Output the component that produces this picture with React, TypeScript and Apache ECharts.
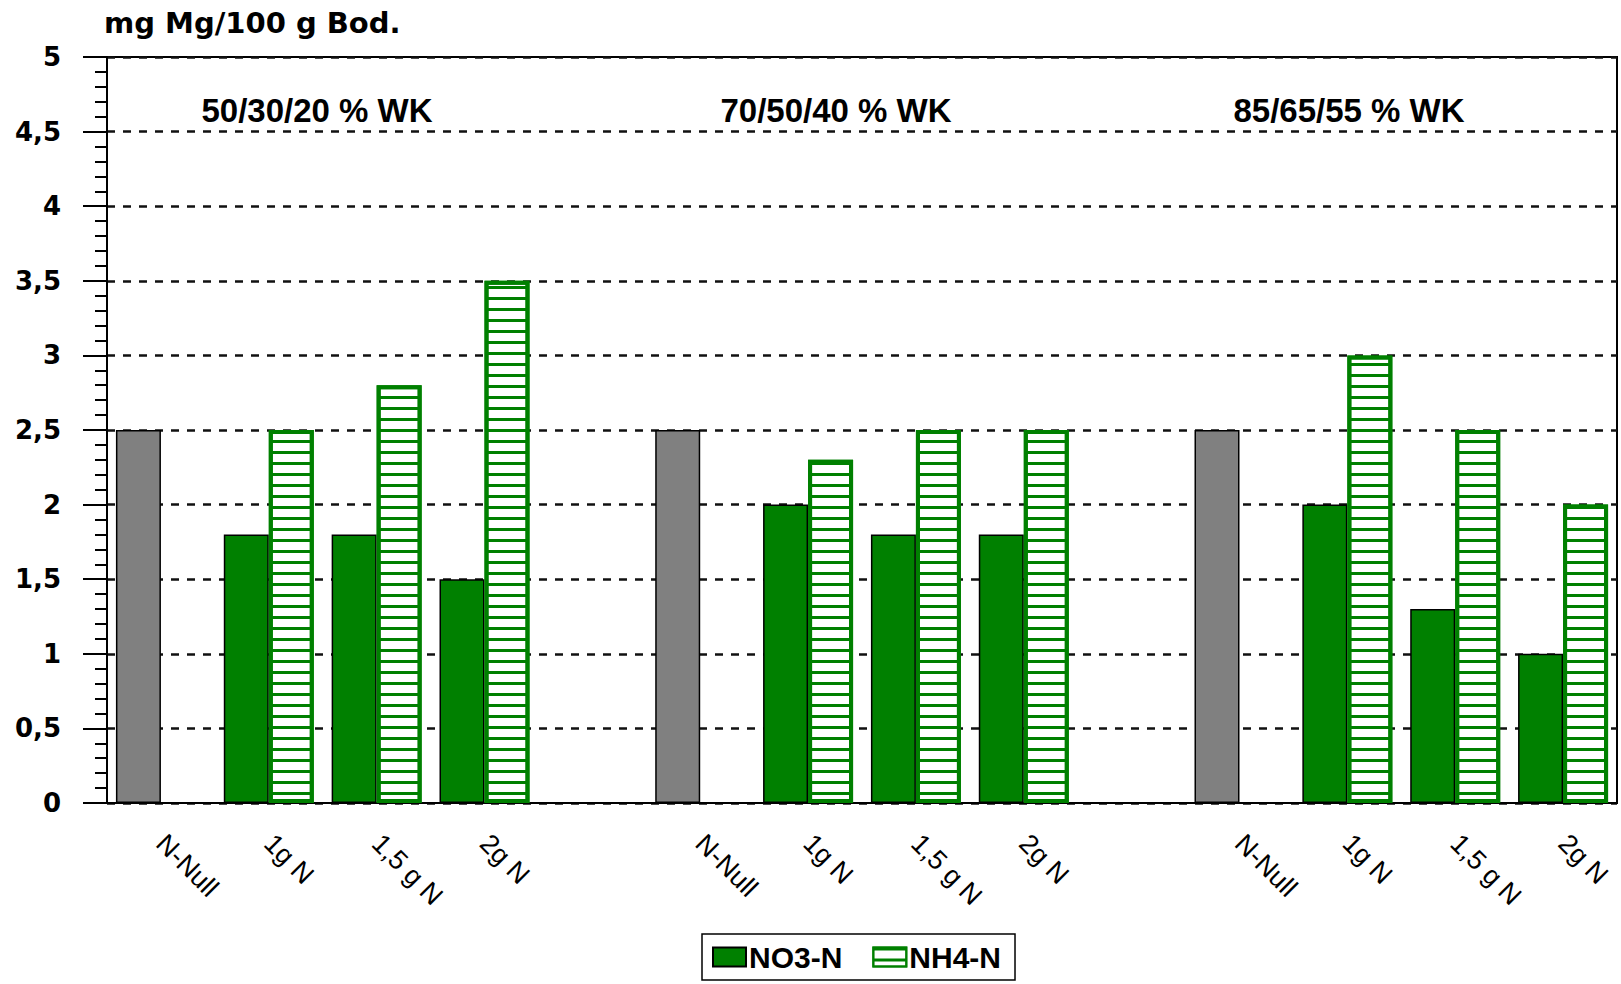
import React, { useEffect, useRef } from "react";
import * as echarts from "echarts";

const categories = [
  "N-Null", "1g N", "1,5 g N", "2g N", "",
  "N-Null", "1g N", "1,5 g N", "2g N", "",
  "N-Null", "1g N", "1,5 g N", "2g N",
];
const controlLabel = "N-Null";
const no3Values: (number | null)[] = [2.5, 1.8, 1.8, 1.5, null, 2.5, 2.0, 1.8, 1.8, null, 2.5, 2.0, 1.3, 1.0];
const nh4Values: (number | null)[] = [null, 2.5, 2.8, 3.5, null, null, 2.3, 2.5, 2.5, null, null, 3.0, 2.5, 2.0];
const seriesNames = ["NO3-N", "NH4-N"];
const groupLabels = ["50/30/20 % WK", "70/50/40 % WK", "85/65/55 % WK"];
const yTitle = "mg Mg/100 g Bod.";

const GREEN = "#008000";
const GREY = "#808080";

export default function App() {
  const ref = useRef<HTMLDivElement>(null);
  useEffect(() => {
    if (!ref.current) return;
    const chart = echarts.init(ref.current, null, { renderer: "svg" });
    const no3Data = no3Values.map((v, i) =>
      v === null
        ? "-"
        : categories[i] === controlLabel
        ? { value: v, itemStyle: { color: GREY } }
        : v
    );
    const nh4Data = nh4Values.map((v) => (v === null ? "-" : v));
    const groupX = [317, 836, 1349];
    chart.setOption({
      animation: false,
      backgroundColor: "#fff",
      grid: {
        left: 107,
        right: 4,
        top: 57,
        bottom: 181,
        show: true,
        borderColor: "#000",
        borderWidth: 2,
      },
      legend: {
        data: seriesNames,
        icon: "rect",
        left: 702,
        top: 934,
        padding: [8, 14, 8, 10],
        itemWidth: 33,
        itemHeight: 19,
        itemGap: 30,
        borderColor: "#000",
        borderWidth: 1.5,
        textStyle: {
          fontFamily: "Liberation Sans",
          fontWeight: "bold",
          fontSize: 30,
          color: "#000",
          padding: [0, 0, 0, -2],
        },
      },
      graphic: [
        {
          type: "text",
          x: 104,
          y: 8,
          style: {
            text: yTitle,
            font: "bold 29px 'DejaVu Sans'",
            fill: "#000",
            align: "left",
            verticalAlign: "top",
          },
        },
        ...groupLabels.map((t, i) => ({
          type: "text",
          x: groupX[i],
          y: 94,
          style: {
            text: t,
            font: "bold 33px 'Liberation Sans'",
            fill: "#000",
            align: "center",
            verticalAlign: "top",
          },
        })),
      ],
      xAxis: {
        type: "category",
        data: categories,
        axisLine: { lineStyle: { color: "#000", width: 2 } },
        axisTick: { show: false },
        axisLabel: {
          interval: 0,
          rotate: -45,
          margin: 36,
          fontFamily: "Liberation Sans",
          fontSize: 27,
          color: "#000",
        },
        splitLine: { show: false },
      },
      yAxis: {
        type: "value",
        min: 0,
        max: 5,
        interval: 0.5,
        axisLine: { show: true, lineStyle: { color: "#000", width: 2 } },
        axisTick: { show: true, length: 24, lineStyle: { color: "#000", width: 2 } },
        minorTick: { show: true, splitNumber: 5, length: 12, lineStyle: { color: "#000", width: 2 } },
        axisLabel: {
          margin: 46,
          fontFamily: "DejaVu Sans",
          fontWeight: "bold",
          fontSize: 26,
          color: "#000",
          formatter: (v: number) => String(v).replace(".", ","),
        },
        splitLine: {
          show: true,
          lineStyle: { color: "#111", width: 2.5, type: [8, 8] },
        },
      },
      series: [
        {
          name: seriesNames[0],
          type: "bar",
          data: no3Data,
          barWidth: 45,
          barGap: "0%",
          itemStyle: { color: GREEN, borderColor: "#000", borderWidth: 1.5 },
        },
        {
          name: seriesNames[1],
          type: "bar",
          data: nh4Data,
          barWidth: 45,
          barGap: "0%",
          itemStyle: {
            color: "#fff",
            borderColor: GREEN,
            borderWidth: 4,
            decal: {
              symbol: "rect",
              symbolSize: 1,
              dashArrayX: [[10, 0]],
              dashArrayY: [3, 8],
              rotation: 0,
              color: GREEN,
            },
          },
        },
      ],
    });
    return () => chart.dispose();
  }, []);
  return (
    <div
      ref={ref}
      style={{ position: "fixed", left: 0, top: 0, width: 1621, height: 984 }}
    />
  );
}
